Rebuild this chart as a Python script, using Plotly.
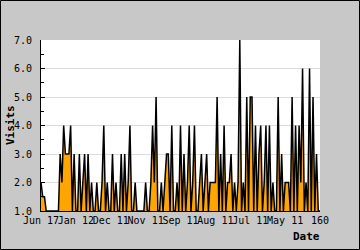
import plotly.graph_objects as go

visits = [
    2, 1.5, 1.5, 1, 1, 1, 1, 1, 1, 1,
    1, 3, 2, 4, 3, 3, 3, 4, 1, 3,
    1, 1, 3, 1, 2, 3, 1, 3, 1, 2,
    1, 1, 2, 1, 1, 2, 4, 1, 2, 1,
    1, 3, 1, 2, 1, 1, 3, 1, 3, 1,
    2, 4, 1, 1, 2, 1, 1, 1, 1, 1,
    2, 1, 1, 2, 4, 2, 5, 1, 1, 2,
    1, 2, 3, 3, 1, 4, 1, 1, 2, 1,
    4, 1, 3, 1, 2, 4, 1, 2, 4, 1,
    1, 2, 3, 1, 2, 3, 1, 2, 2, 2,
    2, 5, 1, 3, 1, 4, 1, 2, 2, 3,
    1, 2, 1, 2, 7, 1, 2, 1, 5, 1,
    5, 5, 1, 4, 1, 3, 4, 1, 2, 4,
    1, 4, 1, 2, 1, 1, 5, 1, 3, 1,
    2, 2, 2, 1, 5, 1, 4, 1, 4, 2,
    6, 1, 2, 1, 6, 1, 5, 1, 3, 1,
    1,
]
index = list(range(len(visits)))
tick_positions = [0, 20, 40, 60, 80, 100, 120, 140, 160]
tick_labels = ["Jun 17", "Jan 12", "Dec 11", "Nov 11", "Sep 11",
               "Aug 11", "Jul 11", "May 11", "160"]
y_ticks = [1, 2, 3, 4, 5, 6, 7]

W, H = 360, 250
L, R, T, B = 41, 40, 40, 39
pw, ph = W - L - R, H - T - B

font = "DejaVu Sans Mono"

fig = go.Figure()
fig.add_trace(go.Scatter(
    x=index, y=visits, mode="lines",
    line=dict(color="black", width=1.5),
    fill="tozeroy", fillcolor="#ffa500",
    hoverinfo="skip", showlegend=False,
))

fig.update_layout(
    width=W, height=H,
    margin=dict(l=L, r=R, t=T, b=B),
    paper_bgcolor="#c8c8c8",
    plot_bgcolor="white",
    font=dict(family=font, size=10, color="black"),
    xaxis=dict(
        range=[0, 160], tickmode="array", tickvals=tick_positions,
        ticktext=tick_labels, tickangle=0, showgrid=False,
        showline=True, linecolor="black", linewidth=1,
        ticks="", zeroline=False,
        tickfont=dict(family=font, size=10),
    ),
    yaxis=dict(
        range=[1, 7], tickmode="array", tickvals=y_ticks,
        ticktext=[f"{v:.1f}" for v in y_ticks],
        showgrid=True, gridcolor="#dcdcdc", gridwidth=1,
        showline=True, linecolor="black", linewidth=1,
        ticks="inside", ticklen=4, tickcolor="black",
        minor=dict(dtick=0.5, ticks="inside", ticklen=3, tickcolor="black", showgrid=False),
        zeroline=False, ticklabelstandoff=6,
        tickfont=dict(family=font, size=10),
    ),
    annotations=[
        dict(text="<b>Visits</b>", xref="paper", yref="paper",
             x=(10 - L) / pw, y=(211 - 125) / ph, textangle=-90,
             showarrow=False, font=dict(family=font, size=11),
             xanchor="center", yanchor="middle"),
        dict(text="<b>Date</b>", xref="paper", yref="paper",
             x=(306 - L) / pw, y=(211 - 236) / ph,
             showarrow=False, font=dict(family=font, size=11),
             xanchor="center", yanchor="middle"),
    ],
    shapes=[
        dict(type="rect", xref="paper", yref="paper",
             x0=(0.5 - L) / pw, x1=(W - 0.5 - L) / pw,
             y0=(211 - (H - 0.5)) / ph, y1=(211 - 0.5) / ph,
             line=dict(color="black", width=1), fillcolor="rgba(0,0,0,0)",
             layer="above"),
    ],
)

fig.write_html("out.html")
